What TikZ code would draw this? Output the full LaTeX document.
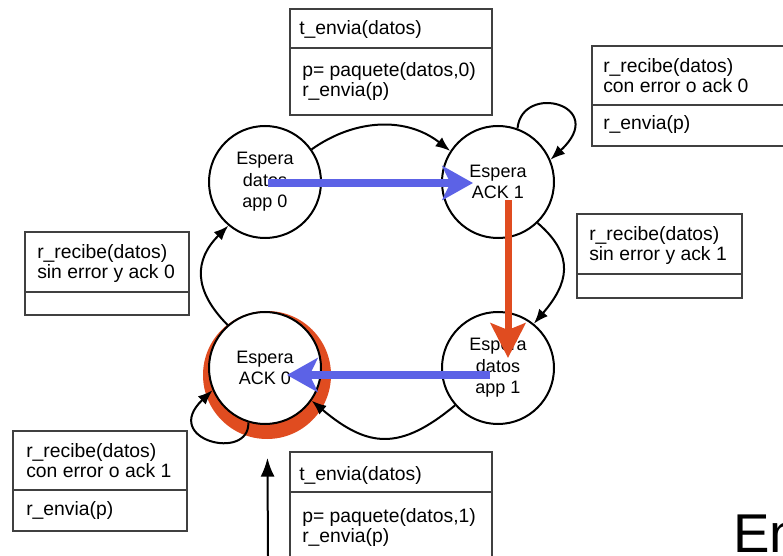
\documentclass[tikz,border=0pt]{standalone}
\usepackage{fontspec}
\setmainfont{Liberation Sans}
\usepackage{tikz}
\usetikzlibrary{arrows.meta, positioning}
\definecolor{azul}{RGB}{92,98,230}
\definecolor{rojo}{RGB}{224,76,32}

\begin{document}
\begin{tikzpicture}[x=0.75pt, y=-0.75pt,
	estado/.style={draw, circle, line width=1.5pt, fill=white, minimum size=84pt, inner sep=0pt, align=center, font=\fontsize{13.5}{16}\selectfont},
	caja/.style={draw=black!75, line width=0.9pt},
	txt/.style={anchor=base west, inner sep=0pt, font=\fontsize{14.5}{15}\selectfont},
	trans/.style={line width=1.5pt, -{Latex[length=11pt, width=8.5pt]}},
	flechaazul/.style={azul, line width=6pt, -{Stealth[length=23pt, width=25.5pt, inset=6pt]}},
	flecharoja/.style={rojo, line width=5.25pt, -{Stealth[length=26pt, width=26pt, inset=5pt]}}]
	\useasboundingbox (0,0) rectangle (783,556);
	\clip (0,0) rectangle (783,556);

	% Estados del receptor
	\node[circle, fill=rojo, minimum size=96pt, inner sep=0pt] (marca) at (267,375) {};
	\node[estado] (app0) at (265,182) {Espera\\datos\\app 0};
	\node[estado] (ack1) at (498,182) {Espera\\ACK 1};
	\node[estado] (app1) at (498,368) {Espera\\datos\\app 1};
	\node[estado] (ack0) at (265,368) {Espera\\ACK 0};

	% Transiciones
	\draw[trans] (app0.35) .. controls (356,118) and (407,117) .. (ack1.147);
	\draw[trans] (ack1.70) .. controls (522,82) and (610,105) .. (ack1.23);
	\draw[trans] (ack1.-46) .. controls (576,256) and (568,284) .. (app1.51);
	\draw[trans] (app1.221) .. controls (400,451) and (368,448) .. (ack0.-35);
	\draw[trans] (ack0.253) .. controls (250,462) and (160,440) .. (ack0.203);
	\draw[trans] (ack0.131) .. controls (193,290) and (194,260) .. (app0.230);

	% Recorrido marcado
	\draw[flechaazul] ([shift={(3,1)}]app0.center) -- ([shift={(-25,1)}]ack1.center);
	\draw[flecharoja] ([shift={(10,18)}]ack1.center) -- ([shift={(10,-10)}]app1.center);
	\draw[flechaazul] ([shift={(-8,7)}]app1.center) -- ([shift={(22,7)}]ack0.center);

	\coordinate (inicio) at (268,556);
	\draw[line width=1.5pt, -{Latex[length=14pt, width=10.5pt]}, shorten >=14pt] (inicio) -- (marca);

	% Acciones
	\draw[caja] (290,9) rectangle (492,115);
	\draw[caja] (290,48) -- (492,48);
	\node[txt] (ev1) at (299,35) {t\_envia(datos)};
	\node[txt] (ac1a) at (302,77) {p= paquete(datos,0)};
	\node[txt] (ac1b) at (302,97) {r\_envia(p)};

	\draw[caja] (592,46) rectangle (790,146);
	\draw[caja] (592,105) -- (790,105);
	\node[txt] (ev2a) at (603,73) {r\_recibe(datos)};
	\node[txt] (ev2b) at (603,93) {con error o ack 0};
	\node[txt] (ac2) at (603,130) {r\_envia(p)};

	\draw[caja] (577,214) rectangle (742,298);
	\draw[caja] (577,274) -- (742,274);
	\node[txt] (ev3a) at (589,241) {r\_recibe(datos)};
	\node[txt] (ev3b) at (589,261) {sin error y ack 1};

	\draw[caja] (25,232) rectangle (189,315);
	\draw[caja] (25,292) -- (189,292);
	\node[txt] (ev4a) at (37,259) {r\_recibe(datos)};
	\node[txt] (ev4b) at (37,279) {sin error y ack 0};

	\draw[caja] (13,431) rectangle (187,531);
	\draw[caja] (13,490) -- (187,490);
	\node[txt] (ev5a) at (26,458) {r\_recibe(datos)};
	\node[txt] (ev5b) at (26,478) {con error o ack 1};
	\node[txt] (ac5) at (26,515) {r\_envia(p)};

	\draw[caja] (290,452) rectangle (492,570);
	\draw[caja] (290,492) -- (492,492);
	\node[txt] (ev6) at (299,480) {t\_envia(datos)};
	\node[txt] (ac6a) at (302,522) {p= paquete(datos,1)};
	\node[txt] (ac6b) at (302,542) {r\_envia(p)};

	\node[anchor=base west, inner sep=0pt, font=\fontsize{41}{41}\selectfont] (titulo) at (733,552) {En};
\end{tikzpicture}
\end{document}
